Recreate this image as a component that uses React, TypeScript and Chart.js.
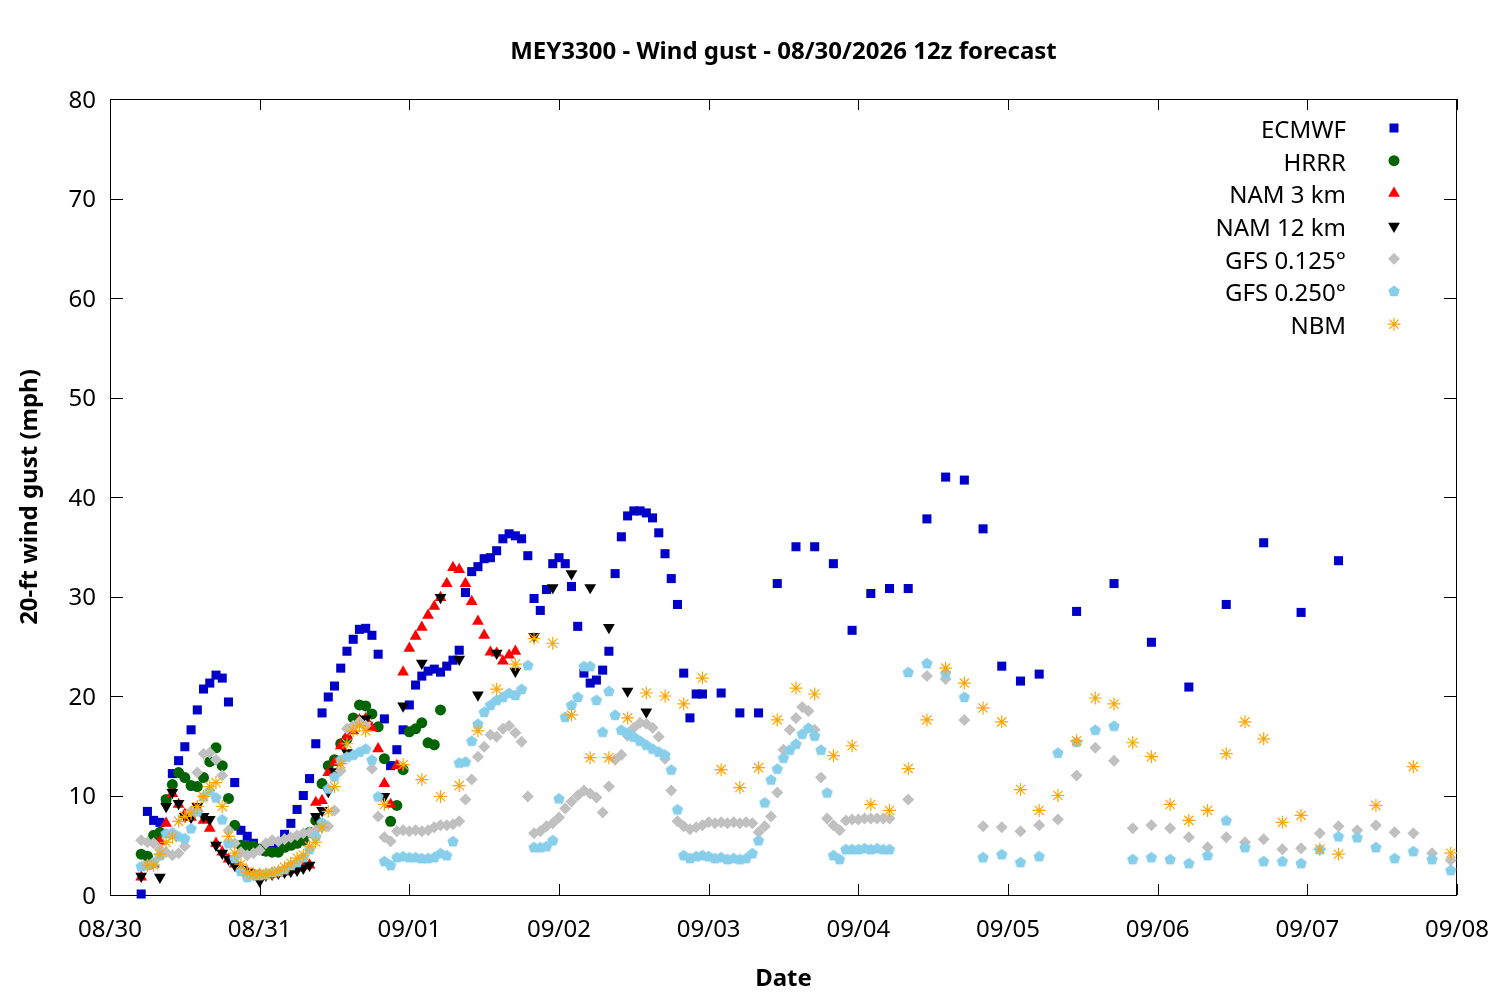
import React, { useEffect, useRef } from 'react';
import { Chart, registerables } from 'chart.js';

Chart.register(...registerables);

// x axis is hours since 08/30 00:00, one tick per day
const dayLabels = ['08/30', '08/31', '09/01', '09/02', '09/03', '09/04', '09/05', '09/06', '09/07', '09/08'];
const titleText = 'MEY3300 - Wind gust - 08/30/2026 12z forecast';

// list of forecast hours from..to with a fixed step
const span = (from: number, to: number, step: number) => {
  const out: number[] = [];
  for (let h = from; h <= to; h += step) out.push(h);
  return out;
};

const ecmwfHours = [...span(5, 95, 1), ...span(98, 149, 3), ...span(155, 197, 6)];
const ecmwfGust = [
  0.1, 8.4, 7.5, 7.3, 9.5, 12.2, 13.5, 14.9, 16.6, 18.6,
  20.7, 21.3, 22.1, 21.8, 19.4, 11.3, 6.5, 5.9, 5.2, 4.7,
  4.4, 4.5, 5.0, 6.1, 7.2, 8.6, 10.0, 11.7, 15.2, 18.3,
  19.9, 21.0, 22.8, 24.5, 25.7, 26.7, 26.8, 26.1, 24.2, 17.7,
  13.0, 14.6, 16.6, 19.1, 21.1, 22.0, 22.5, 22.7, 22.4, 23.0,
  23.6, 24.6, 30.4, 32.5, 33.0, 33.8, 33.9, 34.6, 35.8, 36.3,
  36.1, 35.8, 34.1, 29.8, 28.6, 30.7, 33.3, 33.9, 33.3, 31.0,
  27.0, 22.3, 21.3, 21.6, 22.6, 24.5, 32.3, 36.0, 38.1, 38.6,
  38.6, 38.4, 37.9, 36.4, 34.3, 31.8, 29.2, 22.3, 17.8, 20.2,
  20.2,
  20.3, 18.3, 18.3, 31.3, 35.0, 35.0, 33.3, 26.6, 30.3, 30.8,
  30.8, 37.8, 42.0, 41.7, 36.8, 23.0, 21.5, 22.2,
  28.5, 31.3, 25.4, 20.9, 29.2, 35.4, 28.4, 33.6,
];

const hrrrHours = span(5, 53, 1);
const hrrrGust = [
  4.1, 3.9, 6.0, 6.3, 9.6, 11.1, 12.3, 11.8, 11.0, 10.9,
  11.8, 13.4, 14.8, 13.0, 9.7, 7.0, 5.0, 4.9, 4.9, 4.6,
  4.4, 4.3, 4.3, 4.8, 5.0, 5.2, 5.5, 6.3, 7.5, 11.2,
  13.0, 13.6, 15.2, 15.7, 17.8, 19.1, 19.0, 18.2, 16.9, 13.7,
  7.4, 9.0, 12.6, 16.4, 16.7, 17.3, 15.3, 15.1, 18.6,
];

const nam3Hours = span(5, 65, 1);
const nam3Gust = [
  1.8, 3.0, 3.1, 5.4, 7.2, 10.2, 9.1, 8.1, 7.8, 8.7,
  7.5, 6.7, 5.2, 4.3, 3.6, 3.1, 2.7, 2.3, 2.1, 2.0,
  2.0, 2.1, 2.2, 2.3, 2.5, 2.7, 2.9, 3.0, 9.3, 9.5,
  12.3, 13.3, 15.0, 16.0, 16.5, 17.6, 17.7, 16.8, 14.7, 11.2,
  9.1, 13.0, 22.4, 24.8, 26.0, 26.9, 28.1, 29.0, 29.9, 31.3,
  32.9, 32.7, 31.3, 29.5, 27.5, 26.1, 24.4, 24.3, 23.5, 24.1,
  24.5,
];

const nam12Hours = [5, 8, ...span(9, 36, 1), ...span(38, 86, 3)];
const nam12Gust = [
  1.9, 1.8,
  8.9, 10.3, 9.2, 7.9, 7.8, 8.9, 7.9, 7.6, 5.0, 4.2,
  3.6, 3.0, 2.6, 2.3, 2.1, 1.4, 2.0, 2.1, 2.2, 2.3,
  2.4, 2.5, 2.7, 3.0, 7.9, 8.5, 10.4, 12.4,
  14.3, 17.7, 9.9, 19.0, 23.3, 29.9, 23.7, 20.1, 24.3, 22.5,
  26.0, 30.9, 32.3, 30.9, 26.9, 20.5, 18.4,
];

const gfsHours = [...span(5, 125, 1), ...span(128, 215, 3)];
const gfs125Gust = [
  5.5, 5.3, 5.2, 4.6, 4.3, 4.0, 4.2, 4.9, 8.4, 12.3,
  14.2, 14.3, 13.6, 12.0, 6.5, 5.2, 4.3, 4.0, 4.2, 4.5,
  5.2, 5.5, 5.4, 5.6, 5.8, 6.0, 6.2, 6.3, 6.5, 6.8,
  6.9, 8.5, 12.5, 16.7, 17.0, 17.4, 17.0, 12.7, 7.9, 5.8,
  5.4, 6.4, 6.5, 6.4, 6.5, 6.4, 6.5, 6.8, 7.0, 7.0,
  7.1, 7.4, 9.6, 11.6, 13.9, 14.9, 16.1, 15.9, 16.7, 17.0,
  16.3, 15.4, 9.9, 6.2, 6.4, 6.9, 7.2, 7.8, 8.7, 9.4,
  10.0, 10.5, 10.2, 9.8, 8.3, 10.9, 13.6, 14.1, 16.0, 16.8,
  17.3, 17.2, 16.8, 15.9, 13.7, 10.5, 7.4, 6.9, 6.6, 6.8,
  7.0, 7.3, 7.2, 7.3, 7.2, 7.3, 7.2, 7.3, 7.2, 6.3,
  6.9, 7.9, 10.3, 14.6, 16.6, 17.8, 18.9, 18.5, 16.6, 11.8,
  7.7, 7.0, 6.5, 7.5, 7.6, 7.6, 7.7, 7.7, 7.7, 7.7,
  7.7,
  9.6, 22.0, 21.7, 17.6, 6.9, 6.8, 6.4, 7.0, 7.6, 12.0,
  14.8, 13.5, 6.7, 7.0, 6.7, 5.8, 4.8, 5.8, 5.3, 5.6,
  4.6, 4.7, 6.2, 6.9, 6.5, 7.0, 6.3, 6.2, 4.2, 3.5,
];
const gfs250Gust = [
  2.9, 3.0, 3.3, 4.0, 6.2, 6.3, 5.9, 5.7, 6.7, 8.4,
  9.9, 10.5, 9.8, 7.6, 5.2, 3.7, 2.4, 1.8, 2.0, 2.0,
  2.1, 2.3, 2.4, 2.6, 3.0, 3.3, 3.8, 4.6, 5.9, 7.3,
  10.7, 11.9, 13.6, 13.9, 14.1, 14.4, 14.7, 13.6, 9.9, 3.4,
  3.0, 3.8, 3.9, 3.8, 3.8, 3.7, 3.7, 3.8, 4.2, 4.0,
  5.4, 13.3, 13.4, 15.5, 17.2, 18.4, 19.1, 19.6, 19.9, 20.3,
  20.1, 20.7, 23.1, 4.8, 4.8, 4.9, 5.5, 9.7, 17.9, 19.1,
  19.9, 23.0, 23.0, 19.6, 16.4, 20.5, 18.1, 16.6, 16.3, 15.9,
  15.5, 15.1, 14.7, 14.4, 14.1, 12.6, 8.6, 4.0, 3.7, 3.9,
  4.0, 3.9, 3.7, 3.8, 3.6, 3.7, 3.6, 3.7, 4.2, 5.5,
  9.3, 11.6, 12.7, 13.8, 14.6, 15.2, 16.2, 16.8, 16.0, 14.6,
  10.3, 4.0, 3.6, 4.6, 4.6, 4.6, 4.7, 4.6, 4.7, 4.6,
  4.6,
  22.4, 23.3, 22.3, 19.9, 3.8, 4.1, 3.3, 3.9, 14.3, 15.4,
  16.6, 17.0, 3.6, 3.8, 3.6, 3.2, 4.0, 7.5, 4.8, 3.4,
  3.4, 3.2, 4.6, 5.9, 5.8, 4.8, 3.7, 4.4, 3.6, 2.5,
];

const nbmHours = [...span(6, 41, 1), ...span(44, 197, 3), 203, 209, 215];
const nbmGust = [
  3.0, 3.0, 4.1, 5.3, 5.8, 7.4, 7.9, 8.2, 8.9, 9.9,
  10.9, 11.3, 8.9, 5.9, 4.2, 3.1, 2.3, 2.1, 2.1, 2.1,
  2.2, 2.4, 2.8, 3.2, 3.7, 4.0, 4.9, 5.3, 6.8, 8.4,
  10.9, 13.2, 15.2, 16.5, 17.0, 16.5,
  9.1, 13.1, 11.6, 9.9, 11.0, 16.5, 20.7, 23.2, 25.8, 25.3,
  18.1, 13.8, 13.8, 17.8, 20.3, 20.0, 19.2, 21.8, 12.6, 10.8,
  12.8, 17.6, 20.8, 20.2, 14.0, 15.0, 9.1, 8.5, 12.7, 17.6,
  22.8, 21.3, 18.8, 17.4, 10.6, 8.5, 10.0, 15.5, 19.8, 19.2,
  15.3, 13.9, 9.1, 7.5, 8.5, 14.2, 17.4, 15.7, 7.3, 8.0,
  4.6, 4.1,
  9.0, 12.9, 4.2,
];

type Marker = 'rect' | 'circle' | 'up' | 'down' | 'diamond' | 'pentagon' | 'star';

const models: { label: string; hours: number[]; gust: number[]; color: string; marker: Marker }[] = [
  { label: 'ECMWF', hours: ecmwfHours, gust: ecmwfGust, color: '#0000c8', marker: 'rect' },
  { label: 'HRRR', hours: hrrrHours, gust: hrrrGust, color: '#006400', marker: 'circle' },
  { label: 'NAM 3 km', hours: nam3Hours, gust: nam3Gust, color: '#ff0000', marker: 'up' },
  { label: 'NAM 12 km', hours: nam12Hours, gust: nam12Gust, color: '#000000', marker: 'down' },
  { label: 'GFS 0.125°', hours: gfsHours, gust: gfs125Gust, color: '#c0c0c0', marker: 'diamond' },
  { label: 'GFS 0.250°', hours: gfsHours, gust: gfs250Gust, color: '#87ceeb', marker: 'pentagon' },
  { label: 'NBM', hours: nbmHours, gust: nbmGust, color: '#ffa500', marker: 'star' },
];

const FONT = '"Noto Sans", "DejaVu Sans", sans-serif';

function pentagonPath(ctx: CanvasRenderingContext2D, cx: number, cy: number, r: number) {
  ctx.beginPath();
  for (let i = 0; i < 5; i++) {
    const a = -Math.PI / 2 + (i * 2 * Math.PI) / 5;
    const px = cx + r * Math.cos(a);
    const py = cy + r * Math.sin(a);
    if (i === 0) ctx.moveTo(px, py);
    else ctx.lineTo(px, py);
  }
  ctx.closePath();
}

function makePentagon(color: string, r: number) {
  const c = document.createElement('canvas');
  const size = 14;
  c.width = size;
  c.height = size;
  const g = c.getContext('2d');
  if (g) {
    g.fillStyle = color;
    pentagonPath(g, size / 2, size / 2 + 0.5, r);
    g.fill();
  }
  return c;
}

// legend symbols, drawn by hand to look like the plotted points
function drawMarker(ctx: CanvasRenderingContext2D, m: Marker, x: number, y: number, color: string) {
  ctx.save();
  ctx.fillStyle = color;
  ctx.strokeStyle = color;
  ctx.beginPath();
  if (m === 'rect') {
    ctx.rect(x - 4.5, y - 4.5, 9, 9);
    ctx.fill();
  } else if (m === 'circle') {
    ctx.arc(x, y, 5.5, 0, Math.PI * 2);
    ctx.fill();
  } else if (m === 'up' || m === 'down') {
    const s = m === 'up' ? 1 : -1;
    const r = 6.8;
    ctx.moveTo(x, y - s * r);
    ctx.lineTo(x + r * 0.866, y + s * r * 0.5);
    ctx.lineTo(x - r * 0.866, y + s * r * 0.5);
    ctx.closePath();
    ctx.fill();
  } else if (m === 'diamond') {
    ctx.moveTo(x, y - 6);
    ctx.lineTo(x + 6, y);
    ctx.lineTo(x, y + 6);
    ctx.lineTo(x - 6, y);
    ctx.closePath();
    ctx.fill();
  } else if (m === 'pentagon') {
    pentagonPath(ctx, x, y, 6);
    ctx.fill();
  } else {
    ctx.lineWidth = 1.2;
    for (let i = 0; i < 4; i++) {
      const a = (i * Math.PI) / 4;
      ctx.moveTo(x - 6.5 * Math.cos(a), y - 6.5 * Math.sin(a));
      ctx.lineTo(x + 6.5 * Math.cos(a), y + 6.5 * Math.sin(a));
    }
    ctx.stroke();
  }
  ctx.restore();
}

const framePlugin = {
  id: 'frame',
  beforeDatasetsDraw(chart: any) {
    const { ctx, chartArea } = chart;
    const { left, right, top, bottom } = chartArea;
    const xs = chart.scales.x;
    const ys = chart.scales.y;
    ctx.save();
    ctx.strokeStyle = '#000';
    ctx.lineWidth = 1;
    ctx.strokeRect(Math.round(left) + 0.5, Math.round(top) + 0.5, Math.round(right - left) - 1, Math.round(bottom - top));
    ctx.beginPath();
    xs.ticks.forEach((t: any) => {
      const px = Math.round(xs.getPixelForValue(t.value)) + 0.5;
      ctx.moveTo(px, bottom);
      ctx.lineTo(px, bottom - 11);
      ctx.moveTo(px, top);
      ctx.lineTo(px, top + 11);
    });
    ys.ticks.forEach((t: any) => {
      const py = Math.round(ys.getPixelForValue(t.value)) + 0.5;
      ctx.moveTo(left, py);
      ctx.lineTo(left + 13, py);
      ctx.moveTo(right, py);
      ctx.lineTo(right - 13, py);
    });
    ctx.stroke();
    ctx.restore();
  },
  afterDraw(chart: any) {
    const { ctx, chartArea } = chart;
    ctx.save();
    ctx.fillStyle = '#000';
    ctx.font = `bold 24px ${FONT}`;
    ctx.textAlign = 'center';
    ctx.textBaseline = 'middle';
    ctx.fillText(titleText, (chartArea.left + chartArea.right) / 2, 52);

    ctx.font = `24px ${FONT}`;
    ctx.textAlign = 'right';
    models.forEach((m, i) => {
      const y = 131 + i * 32.7;
      ctx.fillStyle = '#000';
      ctx.fillText(m.label, 1346, y);
      drawMarker(ctx, m.marker, 1394, y - 3, m.color);
    });
    ctx.restore();
  },
};

const App: React.FC = () => {
  const canvasRef = useRef<HTMLCanvasElement | null>(null);

  useEffect(() => {
    document.body.style.margin = '0';
    if (!canvasRef.current) return;
    const ctx = canvasRef.current.getContext('2d');
    if (!ctx) return;

    Chart.defaults.font.family = FONT;
    Chart.defaults.color = '#000';

    const datasets = models.map((m, i) => {
      const base: any = {
        label: m.label,
        data: m.hours.map((h, k) => ({ x: h, y: m.gust[k] })),
        backgroundColor: m.color,
        borderColor: m.color,
        borderWidth: 0,
        order: models.length - i,
        clip: false,
        pointRadius: 6,
        pointRotation: 0,
      };
      if (m.marker === 'rect') { base.pointStyle = 'rect'; base.pointRadius = 6.4; }
      if (m.marker === 'circle') { base.pointStyle = 'circle'; base.pointRadius = 5.5; }
      if (m.marker === 'up') { base.pointStyle = 'triangle'; base.pointRadius = 6.8; }
      if (m.marker === 'down') { base.pointStyle = 'triangle'; base.pointRadius = 6.8; base.pointRotation = 180; }
      if (m.marker === 'diamond') { base.pointStyle = 'rectRot'; base.pointRadius = 6; }
      if (m.marker === 'pentagon') { base.pointStyle = makePentagon(m.color, 6); }
      if (m.marker === 'star') { base.pointStyle = 'star'; base.pointRadius = 6.5; base.borderWidth = 1.2; }
      return base;
    });

    const chart = new Chart(ctx, {
      type: 'scatter',
      data: { datasets },
      options: {
        animation: false,
        responsive: false,
        events: [],
        layout: { padding: { top: 99, right: 43, bottom: 0, left: 0 } },
        plugins: {
          legend: { display: false },
          tooltip: { enabled: false },
          title: { display: false },
        },
        scales: {
          x: {
            type: 'linear',
            min: 0,
            max: 216,
            grid: { display: false, drawTicks: false },
            border: { display: false },
            ticks: {
              stepSize: 24,
              autoSkip: false,
              maxRotation: 0,
              padding: 21,
              font: { size: 24 },
              callback: (v: any) => dayLabels[Math.round(Number(v) / 24)] ?? '',
            },
            title: {
              display: true,
              text: 'Date',
              font: { size: 24, weight: 'bold' },
              padding: { top: 0, bottom: 6 },
            },
            afterFit: (s: any) => {
              s.height = 105;
              s.paddingLeft = 0;
              s.paddingRight = 0;
            },
          },
          y: {
            min: 0,
            max: 80,
            grid: { display: false, drawTicks: false },
            border: { display: false },
            ticks: {
              stepSize: 10,
              padding: 14,
              labelOffset: 2,
              font: { size: 24 },
            },
            title: {
              display: true,
              text: '20-ft wind gust (mph)',
              font: { size: 24, weight: 'bold' },
              padding: { top: 16, bottom: 0 },
            },
            afterFit: (s: any) => {
              s.width = 110;
              s.paddingTop = 0;
              s.paddingBottom = 0;
            },
          },
        },
      },
      plugins: [framePlugin],
    });

    return () => {
      chart.destroy();
    };
  }, []);

  return (
    <div style={{ width: 1500, height: 1000, background: '#fff' }}>
      <canvas ref={canvasRef} width={1500} height={1000} style={{ display: 'block' }} />
    </div>
  );
};

export default App;
